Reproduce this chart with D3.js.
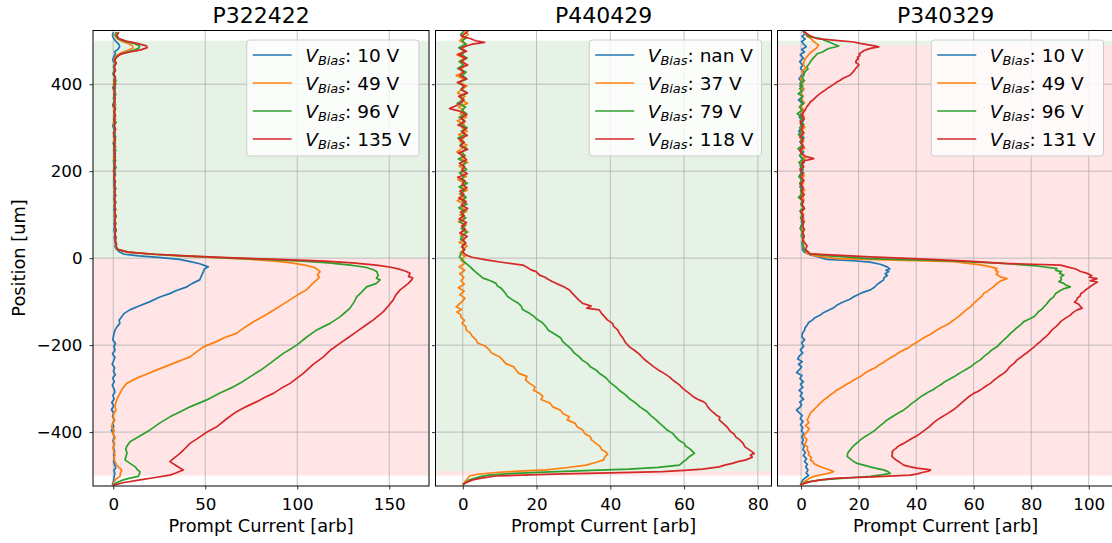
<!DOCTYPE html>
<html>
<head>
<meta charset="utf-8">
<script src="https://cdn.jsdelivr.net/npm/d3@7"></script>
<style>
  body { margin: 0; background: #fff; }
  svg text { font-family: "DejaVu Sans", sans-serif; fill: #000; }
</style>
</head>
<body>
<svg id="chart" width="1112" height="543"></svg>
<script>
// ---- data (position [um], prompt current [arb]) ----
var titles = ["P322422", "P440429", "P340329"];
var biasVolts = [["10", "49", "96", "135"], ["nan", "37", "79", "118"], ["10", "49", "96", "131"]];
var positionTicks = [-400, -200, 0, 200, 400];
var currentTicksA = [0, 50, 100, 150];
var currentTicksB = [0, 20, 40, 60, 80];
var currentTicksC = [0, 20, 40, 60, 80, 100];
// shaded bands [from, to] in um
var greenBands = [[0, 500], [-490, 500], [490, 500]];
var redBands = [[-500, 0], [-500, -490], [-500, 490]];

// P322422
var p1Bias10 = [[520,0.2],[512,-0.5],[505,0.3],[498,1.5],[492,3.0],[486,3.5],[480,2.5],[475,0.8],[470,1.2],[462,0.2],[455,-0.3],[448,0.8],[440,0.1],[432,0.6],[424,-0.2],[416,0.9],[408,0.3],[400,0.7],[392,-0.2],[384,0.5],[376,0.9],[368,0.1],[360,0.6],[352,-0.3],[344,0.4],[336,1.0],[328,0.2],[320,0.8],[312,0.3],[304,-0.2],[296,0.5],[288,1.1],[280,0.2],[272,0.7],[264,0.0],[256,0.6],[248,1.2],[240,0.3],[232,0.8],[224,0.1],[216,0.9],[208,0.4],[200,1.0],[192,0.3],[184,0.7],[176,0.2],[168,0.9],[160,0.5],[152,1.1],[144,0.4],[136,0.8],[128,0.6],[120,1.0],[112,0.3],[104,0.9],[96,0.5],[88,1.1],[80,0.4],[72,0.8],[64,0.3],[56,1.0],[48,0.6],[40,0.9],[32,1.2],[26,1.0],[20,1.8],[14,3.5],[9,6],[5,14],[1,26],[-3,36],[-8,42],[-13,47],[-20,51.7],[-25,49.5],[-31,49],[-40,48],[-50,47],[-58,43],[-66,40],[-75,34],[-81,31],[-90,25],[-100,20],[-110,14],[-119,9],[-127,6],[-135,4.6],[-143,3.2],[-150,3.6],[-158,2],[-165,1],[-175,0.3],[-188,-0.2],[-196,1.2],[-204,0.4],[-212,1.0],[-220,-0.4],[-228,0.9],[-236,0.2],[-244,-0.6],[-252,0.8],[-260,0.1],[-268,1.1],[-276,-0.3],[-284,0.6],[-292,-0.5],[-300,0.4],[-308,0.9],[-316,-0.2],[-324,0.5],[-332,-0.8],[-340,0.3],[-348,-1.0],[-356,0.2],[-364,-0.4],[-372,0.6],[-380,-0.3],[-388,0.3],[-396,-1.0],[-404,0.1],[-412,0.6],[-420,-0.2],[-428,0.5],[-436,0.1],[-444,0.8],[-452,0.3],[-460,0.6],[-468,0.2],[-476,0.9],[-482,1.4],[-488,0.4],[-495,0.9],[-503,0.5],[-512,0.2],[-522,-0.5]];
var p1Bias49 = [[520,1.5],[512,0.8],[505,2.0],[499,4.5],[494,8],[488,10.5],[483,10.7],[478,8],[473,4.5],[468,2.5],[462,1.2],[455,0.4],[448,1.2],[440,0.3],[432,0.9],[424,0.2],[416,1.3],[408,0.5],[400,0.1],[392,1.0],[384,0.4],[376,1.2],[368,0.3],[360,0.8],[352,1.4],[344,0.2],[336,0.9],[328,0.5],[320,1.3],[312,0.1],[304,0.7],[296,1.2],[288,0.4],[280,1.0],[272,0.2],[264,0.8],[256,1.3],[248,0.5],[240,0.9],[232,0.1],[224,1.1],[216,0.6],[208,1.4],[200,0.3],[192,0.9],[184,0.5],[176,1.2],[168,0.4],[160,1.0],[152,0.6],[144,1.3],[136,0.5],[128,1.1],[120,0.7],[112,1.4],[104,0.6],[96,1.2],[88,0.8],[80,1.5],[72,0.7],[64,1.3],[56,0.9],[48,1.5],[40,1.1],[32,1.6],[26,1.4],[20,2.2],[14,7],[9,20],[5,35],[1,55],[-3,75],[-7,88],[-11,97],[-16,104],[-21,109],[-26,111],[-31,112.4],[-38,111],[-44,112],[-50,110.6],[-60,108],[-73,105],[-85,100],[-96,96],[-108,91.5],[-120,87],[-130,83],[-142,78],[-155,73],[-165,69.5],[-173,67],[-182,61],[-192,56],[-204,49],[-215,45.5],[-227,41.7],[-235,37],[-242,32.6],[-250,28],[-257,23.6],[-267,18],[-276,12.7],[-288,7.3],[-300,5],[-311,3.6],[-318,2.8],[-325,2],[-333,1.4],[-341,0.9],[-350,1.5],[-358,0.3],[-365,0],[-373,0.8],[-381,-0.4],[-388,-0.9],[-396,0.5],[-404,-0.3],[-412,1.0],[-420,0.2],[-428,0.8],[-436,-0.2],[-444,0.4],[-452,0.9],[-460,0.3],[-468,0.9],[-475,1.8],[-481,3.0],[-487,4.6],[-494,4.0],[-502,3.6],[-508,1.5],[-514,0.6],[-520,0]];
var p1Bias96 = [[520,2],[512,1.2],[505,2.5],[499,6],[494,11],[488,14.3],[483,14],[478,11],[473,6.5],[468,3.5],[462,1.8],[455,0.7],[448,1.5],[440,0.4],[432,1.1],[424,0.2],[416,0.9],[408,1.5],[400,0.3],[392,1.2],[384,0.6],[376,1.4],[368,0.2],[360,1.0],[352,0.5],[344,1.3],[336,0.3],[328,1.1],[320,0.6],[312,1.5],[304,0.4],[296,1.0],[288,0.2],[280,1.3],[272,0.7],[264,1.1],[256,0.3],[248,1.4],[240,0.6],[232,1.2],[224,0.4],[216,0.9],[208,1.5],[200,0.5],[192,1.2],[184,0.3],[176,1.0],[168,0.7],[160,1.4],[152,0.5],[144,1.1],[136,0.8],[128,1.5],[120,0.6],[112,1.2],[104,0.9],[96,1.6],[88,0.7],[80,1.3],[72,1.0],[64,1.6],[56,0.8],[48,1.4],[40,1.2],[32,1.8],[26,1.6],[20,2.5],[14,8],[9,22],[5,38],[1,58],[-3,82],[-7,103],[-11,117],[-16,129],[-21,137],[-26,141],[-31,143.2],[-40,144],[-46,143],[-50,145],[-58,143],[-66,137.7],[-78,135],[-89,132.3],[-100,131],[-115,128.7],[-125,126],[-135,123.2],[-150,117.8],[-165,110.6],[-182,105],[-200,99.7],[-210,96],[-219,92.4],[-230,89],[-242,85.2],[-258,80],[-273,74.3],[-285,70],[-296,65.3],[-310,58],[-326,50.8],[-342,41.7],[-352,37],[-365,30.8],[-380,25],[-395,20],[-410,14],[-422,9.1],[-433,7.3],[-440,6.8],[-447,7.5],[-455,7.0],[-464,6.4],[-472,9.1],[-480,12],[-486,13],[-491,14.5],[-497,14.2],[-502,13.6],[-506,9],[-510,5.5],[-516,2],[-522,0]];
var p1Bias135 = [[520,3],[512,2],[505,3],[499,7],[494,13],[488,18],[484,18.5],[479,15],[474,9],[469,4],[463,2],[456,0.8],[448,1.6],[440,0.5],[432,1.2],[424,0.3],[416,1.0],[408,0.4],[400,1.3],[392,0.2],[384,0.9],[376,0.3],[368,1.1],[360,0.6],[352,0.1],[344,1.0],[336,0.4],[328,1.2],[320,0.2],[312,0.8],[304,0.5],[296,1.3],[288,0.1],[280,0.7],[272,1.2],[264,0.3],[256,0.9],[248,0.2],[240,1.1],[232,0.5],[224,1.3],[216,0.4],[208,0.8],[200,0.1],[192,1.0],[184,0.4],[176,1.2],[168,0.3],[160,0.9],[152,0.6],[144,1.3],[136,0.4],[128,1.0],[120,0.5],[112,1.2],[104,0.7],[96,1.4],[88,0.6],[80,1.1],[72,0.8],[64,1.5],[56,0.9],[48,1.3],[40,1.0],[32,1.7],[26,1.5],[20,2.5],[14,8],[9,23],[5,40],[1,62],[-3,90],[-7,115],[-11,130],[-16,143],[-21,151],[-26,156],[-30,159],[-35,161.3],[-42,160.5],[-46,162.8],[-50,162.2],[-58,160.4],[-66,158],[-73,155.9],[-85,153.5],[-96,152.2],[-110,149.5],[-123,146.8],[-142,141.4],[-155,137],[-169,132.3],[-182,128],[-196,123.2],[-210,118.5],[-227,114.2],[-245,108.5],[-265,103.3],[-288,96.1],[-300,91],[-311,87],[-320,82.5],[-330,78],[-342,72],[-353,67],[-370,61.5],[-388,56.2],[-400,51],[-411,47.1],[-426,41.7],[-440,38.5],[-449,36.3],[-460,33],[-468,30.8],[-475,33.5],[-482,36],[-487,38.1],[-494,34],[-499,30.8],[-505,22],[-510,14.5],[-516,6],[-522,0]];

// P440429 (no data for the nan V run)
var p2BiasNan = [];
var p2Bias37 = [[522,0.5],[514,1.5],[507,0.2],[500,-0.8],[492,1.0],[484,-0.5],[476,0.8],[468,-1.6],[460,0.3],[452,-1.0],[444,1.2],[436,-0.6],[428,0.4],[420,-1.8],[412,0.2],[404,-0.9],[396,1.1],[388,-0.3],[380,-1.4],[372,0.6],[364,-0.5],[356,1.3],[348,-1.2],[340,0.1],[332,-0.7],[324,1.0],[316,-1.5],[308,0.4],[300,-0.2],[292,1.2],[284,-1.1],[276,0.3],[268,-0.8],[260,1.1],[252,-0.4],[244,-1.6],[236,0.7],[228,-0.3],[220,1.3],[212,-1.0],[204,0.2],[196,-0.6],[188,1.0],[180,-1.3],[172,0.5],[164,-0.4],[156,1.2],[148,-0.9],[140,0.3],[132,-1.5],[124,0.6],[116,-0.2],[108,1.1],[100,-0.8],[92,0.4],[84,-1.2],[76,0.9],[68,-0.3],[60,1.4],[52,-0.6],[44,0.5],[36,-1.0],[28,1.2],[20,0.1],[12,-0.7],[4,0.6],[-5,-0.45],[-12,0.6],[-20,-1.0],[-28,0.5],[-36,-0.8],[-44,0.3],[-52,-0.5],[-60,0.4],[-68,-1.2],[-76,0.4],[-84,-0.8],[-92,0.6],[-100,-0.2],[-106,-1.0],[-112,-1.8],[-118,-0.3],[-124,-1.6],[-130,-0.6],[-136,-0.45],[-143,0.5],[-150,-0.2],[-157,0.8],[-165,0.9],[-172,2.0],[-180,2.6],[-188,3.6],[-195,4.0],[-202,6.0],[-211,7.2],[-218,7.8],[-226,9.8],[-234,10.8],[-242,11.6],[-250,13.8],[-257,14.4],[-265,15.2],[-272,17.4],[-280,17.0],[-288,18.1],[-296,19.6],[-304,19.2],[-312,21.0],[-318,21.7],[-325,21.2],[-333,23.6],[-342,24.4],[-350,26.5],[-358,27.2],[-365,28.9],[-372,28.3],[-380,30.5],[-388,31.0],[-395,32.5],[-403,33.0],[-410,34.5],[-418,34.9],[-426,36.1],[-433,37.2],[-440,37.6],[-446,38.8],[-451,39.3],[-457,38.5],[-464,38.2],[-470,36],[-476,33.4],[-482,28],[-487,22.6],[-490,15],[-493,9],[-497,4],[-501,1.8],[-508,1.2],[-514,0.6],[-521,0]];
var p2Bias79 = [[522,0.3],[514,-0.6],[507,1.0],[500,-0.2],[492,0.8],[484,-1.1],[476,0.5],[468,-0.3],[460,1.2],[452,-0.9],[444,0.2],[436,-1.4],[428,0.9],[420,-0.1],[412,1.1],[404,-1.2],[396,0.4],[388,-0.5],[380,1.3],[372,-0.8],[364,0.3],[356,-1.5],[348,0.7],[340,-0.2],[332,1.0],[324,-1.0],[316,0.5],[308,-0.6],[300,1.2],[292,-0.4],[284,0.6],[276,-1.3],[268,0.2],[260,-0.7],[252,1.1],[244,-0.3],[236,0.5],[228,-1.2],[220,0.8],[212,-0.1],[204,1.0],[196,-0.9],[188,0.3],[180,-0.4],[172,1.2],[164,-1.0],[156,0.4],[148,-0.6],[140,0.9],[132,-0.2],[124,1.1],[116,-1.1],[108,0.5],[100,-0.3],[92,0.8],[84,-0.8],[76,0.6],[68,-0.4],[60,1.0],[52,0.1],[44,-0.6],[36,0.7],[28,-0.2],[20,0.5],[10,-0.5],[3,-0.9],[-5,0],[-12,0.9],[-20,2],[-30,3.2],[-39,4.5],[-46,5.5],[-52,7.5],[-58,9],[-64,9.4],[-70,10.5],[-80,11.5],[-88,12.1],[-96,13.5],[-103,14.9],[-110,15.8],[-118,16.2],[-127,18.1],[-134,19.3],[-140,20],[-148,21.5],[-158,22.6],[-166,23.2],[-175,25],[-183,26.5],[-192,27.1],[-200,28.2],[-210,29.5],[-218,30.2],[-227,31.6],[-234,32.3],[-242,33.8],[-250,34.6],[-257,36.1],[-266,37.2],[-275,38.8],[-285,39.8],[-296,41.5],[-305,42.6],[-315,44.2],[-324,45.3],[-334,47],[-342,48.0],[-352,49.8],[-362,51.0],[-372,52.4],[-380,53.4],[-388,54.5],[-396,55.5],[-403,56.9],[-410,57.6],[-418,58.5],[-426,60],[-432,60.4],[-438,61.5],[-444,62.2],[-449,62.8],[-456,61.5],[-464,60.5],[-470,59.5],[-476,58.7],[-481,53],[-485,45],[-488,35],[-492,22],[-495,14],[-499,7],[-503,4.5],[-510,1.8],[-516,0.8],[-521,0]];
var p2Bias118 = [[522,1.5],[516,0.5],[510,-0.4],[505,2],[500,3.5],[496,5.9],[492,2.5],[488,1.0],[482,-0.6],[476,1.0],[468,-1.2],[460,0.8],[452,-0.3],[444,1.3],[436,-1.0],[428,0.2],[420,-0.8],[412,1.0],[404,-1.5],[396,0.5],[388,-0.4],[380,1.2],[372,-1.1],[364,0.3],[356,-0.6],[350,-2.0],[344,-3.6],[338,-0.8],[330,1.1],[322,-0.5],[314,0.6],[306,-1.3],[298,0.9],[290,-0.2],[282,1.2],[274,-1.0],[266,0.4],[258,-0.7],[250,1.3],[242,-1.2],[234,0.1],[226,1.0],[218,-0.9],[210,0.5],[202,-0.3],[194,1.2],[186,-1.4],[178,0.6],[170,-0.2],[162,1.1],[154,-0.8],[146,0.3],[138,-1.1],[130,0.9],[122,-0.4],[114,1.3],[106,-0.6],[98,0.4],[90,-1.0],[82,1.0],[74,-0.3],[66,0.7],[58,-0.8],[50,1.2],[42,0.0],[34,0.8],[26,-0.3],[20,0.5],[14,0],[7,0.9],[2,2.5],[-4,6.3],[-10,11],[-16,16.3],[-22,17.6],[-27,18.5],[-31,19.9],[-39,20.8],[-44,22.3],[-48,23],[-53,24.1],[-58,25.3],[-66,27.4],[-73,28.9],[-80,29.6],[-88,30.5],[-96,31.4],[-104,32.5],[-110,34.8],[-115,33.6],[-119,37],[-127,37.6],[-135,38.5],[-142,39.2],[-150,40.6],[-157,40.9],[-165,42],[-175,42.6],[-185,43.5],[-194,44.1],[-204,45.2],[-213,46.7],[-222,48],[-232,49.1],[-242,50.6],[-250,51.8],[-257,53],[-265,54.6],[-273,56],[-282,57.2],[-292,58.8],[-300,59.7],[-311,61.4],[-318,62.4],[-325,63.8],[-330,65.2],[-334,65.9],[-342,66.4],[-352,67.5],[-360,68.6],[-366,69.7],[-372,69.5],[-380,70.6],[-390,71.8],[-398,72.5],[-405,73.6],[-411,74],[-418,75.1],[-426,76],[-434,76.5],[-441,77.7],[-445,78.4],[-449,79],[-453,78],[-458,78.5],[-464,76.8],[-468,74.6],[-472,73.1],[-476,71],[-480,69.5],[-485,65],[-488,60],[-491,54.2],[-494,40],[-496,27.1],[-499,16],[-501,9],[-506,5],[-510,2.7],[-515,1.2],[-521,0]];

// P340329
var p3Bias10 = [[522,0.5],[516,1.5],[510,0.3],[504,1.4],[498,0.2],[492,0.9],[486,1.8],[480,0.2],[474,1.2],[468,-0.3],[460,0.8],[452,-0.5],[444,0.6],[436,-0.2],[428,1.1],[420,0.1],[412,-0.7],[404,0.5],[396,-0.4],[388,0.9],[380,-0.1],[372,0.7],[364,-0.9],[356,0.4],[348,-0.3],[340,1.0],[332,0.0],[324,-0.6],[316,0.8],[308,-0.2],[300,0.5],[292,-0.8],[284,0.3],[276,1.0],[268,-0.4],[260,0.6],[252,-0.2],[244,0.9],[236,-0.5],[228,0.4],[220,1.1],[212,-0.3],[204,0.7],[196,0.0],[188,-0.6],[180,0.8],[172,0.2],[164,-0.4],[156,0.9],[148,0.1],[140,-0.5],[132,0.6],[124,0.2],[116,1.0],[108,-0.2],[100,0.5],[92,0.9],[84,0.1],[76,0.7],[68,-0.3],[60,0.6],[52,0.2],[44,0.8],[36,0.3],[28,0.4],[20,0.5],[15,0.9],[8,3],[3,6],[-3,9],[-6,18],[-9,24],[-14,27.5],[-20,29.9],[-25,30.8],[-28,29.5],[-31,30.5],[-36,29.2],[-40,30.0],[-45,28.8],[-50,28.7],[-56,27.4],[-60,26.5],[-67,25.5],[-73,24.1],[-80,21],[-89,18.3],[-95,16.8],[-101,14.6],[-108,12.5],[-114,11.4],[-120,9.5],[-126,7.6],[-131,6.7],[-137,4.8],[-142,4],[-148,2.6],[-154,2.1],[-160,1.4],[-166,1.2],[-172,0.5],[-181,0.3],[-188,1.2],[-195,0.2],[-203,0.9],[-211,-0.25],[-218,0.6],[-225,-0.6],[-232,-1.2],[-238,0.4],[-244,-0.9],[-250,0.2],[-256,-0.5],[-263,-1.6],[-270,0.3],[-277,-0.4],[-284,0.8],[-290,-0.2],[-297,0.6],[-304,-0.7],[-310,0.4],[-317,-0.3],[-324,0.9],[-331,-0.5],[-337,0.2],[-343,-0.4],[-349,-1.6],[-356,-0.6],[-362,0.4],[-369,-0.3],[-376,0.7],[-383,-0.2],[-390,0.6],[-397,0.1],[-404,0.9],[-411,0.2],[-418,0.8],[-425,0.3],[-432,1.1],[-440,0.6],[-447,1.5],[-454,0.8],[-461,1.9],[-468,1.2],[-474,2.2],[-480,1.6],[-487,2.4],[-494,1.8],[-500,2.6],[-505,1.5],[-510,0.6],[-516,0.1],[-521,-0.25]];
var p3Bias49 = [[522,0.9],[516,1.6],[510,2.0],[505,3.5],[500,4.0],[495,5],[490,6.1],[484,5.5],[478,4.4],[472,3.2],[466,2.4],[459,1.5],[452,1.0],[445,0.8],[437,1.6],[429,0.3],[421,0.9],[413,-0.2],[405,0.7],[397,0.1],[389,1.0],[381,-0.4],[373,0.6],[365,0.2],[357,1.2],[349,-0.1],[341,0.8],[333,0.3],[325,1.1],[317,-0.3],[309,0.5],[301,1.3],[293,0.0],[285,0.7],[277,-0.5],[269,0.9],[261,0.2],[253,1.2],[245,-0.2],[237,0.6],[229,1.4],[221,0.1],[213,0.8],[205,-0.4],[197,0.5],[189,1.1],[181,0.0],[173,0.7],[165,0.3],[157,1.2],[149,-0.2],[141,0.6],[133,1.0],[125,0.2],[117,0.8],[109,-0.1],[101,0.9],[93,0.4],[85,1.2],[77,0.3],[69,0.8],[61,0.1],[53,1.0],[45,0.5],[37,1.1],[29,0.6],[20,1.0],[11,2.1],[5,5],[-1,12.5],[-4,30],[-8,53.1],[-12,58],[-15,62],[-20,66],[-24,68.1],[-28,67.5],[-32,68.5],[-37,67.8],[-43,69.3],[-47,71.6],[-52,69.5],[-58,68.1],[-64,67.2],[-70,66],[-76,64.8],[-81,63.5],[-88,62.8],[-95,61.5],[-103,60.2],[-112,58.9],[-119,57.4],[-127,56],[-134,54.8],[-142,53.1],[-148,51.9],[-154,50.5],[-160,48.6],[-165,47.3],[-171,45.9],[-177,44.5],[-182,43.0],[-188,41.5],[-194,40.2],[-200,38.5],[-206,37.4],[-211,35.7],[-217,34.0],[-222,33],[-228,31.4],[-234,29.9],[-240,28.6],[-246,27],[-252,25.8],[-257,24.1],[-263,22.5],[-268,21.5],[-274,20.2],[-280,18.3],[-286,17.0],[-291,15.5],[-297,14.2],[-303,12.5],[-309,11.4],[-315,10],[-320,9.2],[-326,7.9],[-332,6.9],[-338,6],[-344,5.1],[-349,4.4],[-355,3.4],[-360,3],[-366,2.6],[-372,2.1],[-378,2.7],[-385,1.5],[-392,2.8],[-398,2.3],[-404,1.4],[-410,0.9],[-416,2.0],[-422,1.8],[-428,1.1],[-434,2.3],[-441,2.1],[-447,2.8],[-452,2.5],[-458,3.6],[-464,3.2],[-468,4.2],[-472,4.4],[-477,5.8],[-481,7.2],[-486,9.5],[-491,11.3],[-494,10.0],[-497,7.9],[-500,5.6],[-503,4],[-507,2.8],[-510,2.1],[-515,0.9],[-521,-0.25]];
var p3Bias96 = [[522,0.9],[516,1.8],[510,2.5],[505,6.7],[500,8.5],[496,10.2],[492,11.5],[488,13.1],[485,11.5],[482,9.6],[478,8.4],[474,7.5],[470,5.5],[465,5.0],[460,4.2],[455,3.6],[451,3.2],[446,2.7],[440,2.0],[435,2.4],[430,1.5],[425,1.1],[420,0.9],[414,0.4],[408,1.2],[402,-0.4],[396,0.6],[390,-0.5],[384,0.3],[378,-1.0],[372,0.5],[364,-0.2],[356,0.8],[348,-0.6],[340,0.3],[332,-1.3],[324,0.4],[316,-0.3],[308,0.9],[300,-0.5],[292,0.2],[284,-0.9],[276,0.7],[268,-0.2],[260,0.5],[252,-1.1],[244,0.3],[236,-0.4],[228,0.8],[220,-0.7],[212,0.1],[204,-0.3],[196,0.9],[188,-0.8],[180,0.2],[172,-0.5],[164,0.6],[156,-0.2],[148,0.4],[140,-0.9],[132,0.5],[124,-0.1],[116,0.7],[108,-0.4],[100,0.3],[92,-0.2],[84,0.8],[76,0.1],[68,-0.3],[60,0.6],[52,0.0],[44,0.7],[36,0.4],[28,0.9],[20,1.0],[10,3.2],[5,10],[-1,24.1],[-6,50],[-12,70.4],[-18,82],[-24,89],[-28,88.5],[-31,90.5],[-35,89.8],[-39,91.3],[-44,90.2],[-50,90.5],[-54,89.6],[-58,91.3],[-62,92.0],[-66,93.6],[-70,91.5],[-75,90],[-82,88.4],[-89,87.8],[-95,86.6],[-100,86],[-106,85.3],[-112,84.4],[-118,83.6],[-123,82.5],[-129,81.8],[-135,80.9],[-141,79.0],[-146,77.4],[-153,76.4],[-160,75],[-166,74.0],[-173,72.8],[-180,71.8],[-188,70.5],[-196,69.2],[-204,68.1],[-211,66.3],[-219,65],[-226,63.6],[-234,62.3],[-242,60.4],[-250,58.9],[-256,57.3],[-261,56],[-267,54.5],[-273,53.1],[-278,51.7],[-284,50],[-290,48.8],[-296,47.3],[-302,46.0],[-307,44.5],[-313,43.0],[-319,41.5],[-327,40.0],[-334,38.5],[-342,37.1],[-349,35.7],[-355,34.1],[-360,32.8],[-366,31.4],[-372,29.9],[-380,28.5],[-388,27],[-396,25.6],[-403,24.1],[-410,22.3],[-418,20.6],[-424,19.6],[-430,18.5],[-436,17.6],[-441,17.1],[-446,16.4],[-450,16.2],[-456,16],[-460,16.8],[-464,17.5],[-468,18.4],[-472,19.5],[-476,21.8],[-480,24],[-484,26.5],[-487,28.7],[-491,30.2],[-495,31],[-498,28.5],[-502,24.1],[-505,17],[-507,13],[-510,6.7],[-515,2],[-521,-0.25]];
var p3Bias131 = [[522,0.9],[516,2.0],[512,3],[508,4.2],[505,5.5],[501,12],[497,18.3],[494,20.5],[491,23],[488,25.5],[486,27],[483,24.5],[480,23],[477,21.8],[474,21.2],[470,20.2],[466,20.5],[462,19.6],[459,20],[455,19.2],[450,19],[445,20.1],[440,19.5],[435,18.8],[430,18.3],[425,17.6],[421,17.1],[417,15.8],[413,14.5],[409,13.6],[405,12.5],[399,11.2],[392,9.5],[386,8.3],[379,6.7],[373,5.6],[368,4.8],[363,4.0],[359,3.2],[353,2.6],[348,2.0],[342,1.5],[336,0.9],[328,0.2],[320,1.1],[312,-0.3],[304,0.7],[296,0.1],[288,1.0],[280,-0.4],[272,0.6],[264,0.0],[256,0.9],[248,-0.5],[240,0.4],[234,1.5],[229,4.4],[224,1.2],[218,0.2],[210,0.9],[202,-0.3],[194,0.6],[186,0.0],[178,1.0],[170,-0.2],[162,0.7],[154,0.2],[146,1.1],[138,-0.1],[130,0.8],[122,0.3],[114,1.2],[106,0.0],[98,0.7],[90,0.2],[82,1.0],[74,0.4],[66,1.2],[58,0.5],[50,1.1],[42,0.6],[34,1.4],[28,2.1],[20,1.5],[10,3.2],[3,24.1],[-3,45],[-7,58],[-12,70.4],[-16,90.2],[-20,92.5],[-25,95.5],[-30,97.0],[-35,99.4],[-40,101],[-44,100.2],[-47,102.9],[-52,100.5],[-55,103],[-58,102.3],[-63,101.0],[-68,100],[-72,99.1],[-77,98.3],[-82,97.2],[-87,97],[-92,96.0],[-96,95.9],[-101,95.0],[-106,96.5],[-111,97.1],[-115,97.7],[-119,96.0],[-123,95],[-127,94.2],[-131,93.6],[-138,91.9],[-146,90.2],[-152,89.5],[-158,88.5],[-164,87.4],[-169,86.7],[-175,86.0],[-181,85],[-186,84.1],[-192,83.2],[-198,82.0],[-204,81.1],[-211,79.7],[-217,78.6],[-222,77.5],[-228,76.4],[-234,75.1],[-242,74.0],[-250,72.5],[-258,71.6],[-265,70.4],[-270,69.2],[-276,68],[-282,66.8],[-288,65.8],[-294,64.3],[-300,63],[-306,61.6],[-311,60],[-318,58.4],[-326,57],[-334,55.6],[-342,54.2],[-350,52.7],[-357,51],[-364,49.2],[-372,47.3],[-380,45.8],[-388,44.5],[-395,43.1],[-403,41.5],[-409,40.1],[-415,38.5],[-420,37.2],[-426,35.7],[-430,34.4],[-434,33.5],[-438,32.9],[-441,32.2],[-446,31.6],[-450,31.8],[-455,31.5],[-460,32.2],[-464,33.0],[-468,34],[-472,34.8],[-476,35.7],[-480,38.0],[-483,40.3],[-487,45],[-490,44.2],[-493,42],[-496,40.5],[-499,38],[-503,25],[-506,12.5],[-510,7],[-514,3.2],[-521,-0.25]];

// ---- layout ----
var plotTop = 30.5, plotBottom = 486;
var panelLeft = [93, 435.5, 777.5];
var panelWidth = 336;
var colors = ["#1f77b4", "#ff7f0e", "#2ca02c", "#d62728"];
var fontTick = 16.7, fontLabel = 17.8, fontTitle = 22, fontLegend = 18.5;

var panels = [
  { title: titles[0], domain: [-11, 171.6], ticks: currentTicksA, series: [p1Bias10, p1Bias49, p1Bias96, p1Bias135] },
  { title: titles[1], domain: [-7.4, 83.7], ticks: currentTicksB, series: [p2BiasNan, p2Bias37, p2Bias79, p2Bias118] },
  { title: titles[2], domain: [-8.2, 108.6], ticks: currentTicksC, series: [p3Bias10, p3Bias49, p3Bias96, p3Bias131] }
];

var svg = d3.select("#chart");
var y = d3.scaleLinear().domain([-524, 523.5]).range([plotBottom, plotTop]);

function fmt(d) { return d < 0 ? "\u2212" + Math.abs(d) : String(d); }

panels.forEach(function (p, i) {
  var x = d3.scaleLinear().domain(p.domain).range([0, panelWidth]);
  var g = svg.append("g").attr("transform", "translate(" + panelLeft[i] + ",0)");

  g.append("clipPath").attr("id", "clip" + i)
    .append("rect").attr("x", 0).attr("y", plotTop).attr("width", panelWidth).attr("height", plotBottom - plotTop);
  var plot = g.append("g").attr("clip-path", "url(#clip" + i + ")");

  // shaded regions
  plot.append("rect")
    .attr("x", 0).attr("width", panelWidth)
    .attr("y", y(greenBands[i][1])).attr("height", y(greenBands[i][0]) - y(greenBands[i][1]))
    .attr("fill", "#008000").attr("fill-opacity", 0.1);
  plot.append("rect")
    .attr("x", 0).attr("width", panelWidth)
    .attr("y", y(redBands[i][1])).attr("height", y(redBands[i][0]) - y(redBands[i][1]))
    .attr("fill", "#ff0000").attr("fill-opacity", 0.1);

  // grid
  plot.selectAll(".vgrid").data(p.ticks).enter().append("line")
    .attr("x1", function (d) { return x(d); }).attr("x2", function (d) { return x(d); })
    .attr("y1", plotTop).attr("y2", plotBottom)
    .attr("stroke", "#b0b0b0").attr("stroke-width", 0.8);
  plot.selectAll(".hgrid").data(positionTicks).enter().append("line")
    .attr("x1", 0).attr("x2", panelWidth)
    .attr("y1", function (d) { return y(d); }).attr("y2", function (d) { return y(d); })
    .attr("stroke", "#b0b0b0").attr("stroke-width", 0.8);

  // curves
  var line = d3.line().x(function (d) { return x(d[1]); }).y(function (d) { return y(d[0]); });
  p.series.forEach(function (s, k) {
    if (!s.length) return;
    plot.append("path").attr("d", line(s))
      .attr("fill", "none").attr("stroke", colors[k]).attr("stroke-width", 1.7)
      .attr("stroke-linejoin", "round");
  });

  // frame
  g.append("rect").attr("x", 0).attr("y", plotTop).attr("width", panelWidth).attr("height", plotBottom - plotTop)
    .attr("fill", "none").attr("stroke", "#000").attr("stroke-width", 1);

  // axes
  var xa = g.append("g").attr("transform", "translate(0," + plotBottom + ")")
    .call(d3.axisBottom(x).tickValues(p.ticks).tickSize(3.5).tickPadding(8.5).tickFormat(fmt));
  xa.select(".domain").remove();
  xa.selectAll("text").attr("font-size", fontTick).attr("font-family", "DejaVu Sans");
  xa.selectAll("line").attr("stroke", "#000").attr("stroke-width", 0.8);

  var ya = g.append("g")
    .call(d3.axisLeft(y).tickValues(positionTicks).tickSize(3.5).tickPadding(7).tickFormat(i === 0 ? fmt : function () { return ""; }));
  ya.select(".domain").remove();
  ya.selectAll("text").attr("font-size", fontTick).attr("font-family", "DejaVu Sans");
  ya.selectAll("line").attr("stroke", "#000").attr("stroke-width", 0.8);

  // title and x label
  g.append("text").attr("x", panelWidth / 2).attr("y", 22.5).attr("text-anchor", "middle")
    .attr("font-size", fontTitle).text(p.title);
  g.append("text").attr("x", panelWidth / 2).attr("y", 531.5).attr("text-anchor", "middle")
    .attr("font-size", fontLabel).text("Prompt Current [arb]");

  // legend
  var leg = g.append("g");
  var box = leg.append("rect").attr("y", 40).attr("height", 116).attr("rx", 3)
    .attr("fill", "#fff").attr("fill-opacity", 0.8).attr("stroke", "#cccccc").attr("stroke-width", 1);
  var maxW = 0;
  var rows = [];
  biasVolts[i].forEach(function (v, k) {
    var cy = 55 + k * 28;
    var row = leg.append("g");
    row.append("line").attr("x1", 6).attr("x2", 45).attr("y1", cy).attr("y2", cy)
      .attr("stroke", colors[k]).attr("stroke-width", 1.7);
    var t = row.append("text").attr("x", 58.5).attr("y", cy + 6.5).attr("font-size", fontLegend);
    t.append("tspan").attr("font-style", "italic").text("V");
    t.append("tspan").attr("font-style", "italic").attr("font-size", fontLegend * 0.7).attr("dy", 3.5).text("Bias");
    t.append("tspan").attr("dy", -3.5).text(": " + v + " V");
    maxW = Math.max(maxW, t.node().getComputedTextLength());
    rows.push(row);
  });
  var boxW = 58.5 + maxW + 8;
  var bx = panelWidth - 10 - boxW;
  box.attr("x", bx).attr("width", boxW);
  rows.forEach(function (r) { r.attr("transform", "translate(" + bx + ",0)"); });
});

// shared y label
svg.append("text")
  .attr("transform", "translate(24.5,258) rotate(-90)")
  .attr("text-anchor", "middle").attr("font-size", fontLabel)
  .text("Position [um]");
</script>
</body>
</html>
